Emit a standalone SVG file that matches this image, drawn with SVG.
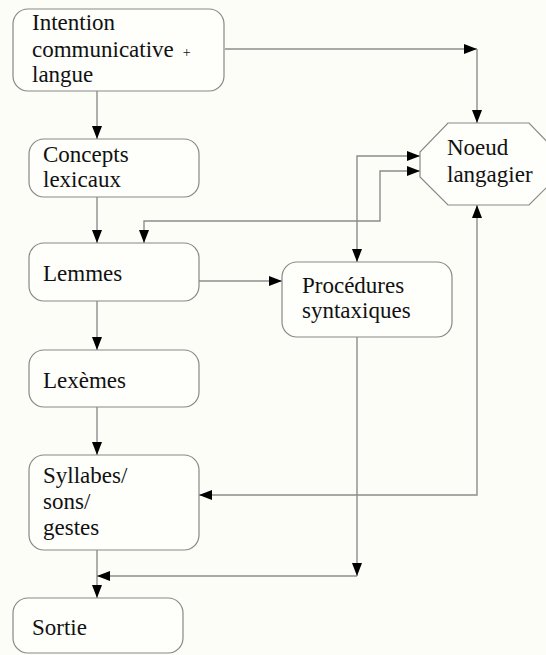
<svg xmlns="http://www.w3.org/2000/svg" width="546" height="655" viewBox="0 0 546 655">
<defs>
<marker id="ah" markerUnits="userSpaceOnUse" markerWidth="14" markerHeight="11" refX="13" refY="5" orient="auto-start-reverse"><path d="M0,0 L13,5 L0,10 z" fill="#000"/></marker>
<style>
.box{fill:#fefefb;stroke:#888;stroke-width:1.2}
.t{font-size:23px;fill:#111}
.c{fill:none;stroke:#8c8c8c;stroke-width:1.4}
.e{marker-end:url(#ah)}
.b{marker-start:url(#ah);marker-end:url(#ah)}
</style>
</defs>
<rect width="546" height="655" fill="#fdfdf8"/>
<g id="connectors">
<path class="c e" d="M97,91 V139"/>
<path class="c e" d="M225,49 H477"/>
<path class="c e" d="M477,49 V123"/>
<path class="c e" d="M97,197 V243"/>
<path class="c b" d="M420,156 H357 V262"/>
<path class="c b" d="M420,171 H380 V221 H144 V243"/>
<path class="c e" d="M199,281 H282"/>
<path class="c e" d="M97,301 V350"/>
<path class="c e" d="M97,407 V455"/>
<path class="c b" d="M199,495 H477 V205"/>
<path class="c e" d="M97,550 V598"/>
<path class="c e" d="M357,337 V576"/>
<path class="c e" d="M357,576 H97"/>
</g>
<g font-family="Liberation Serif, Tinos, Times New Roman, DejaVu Serif, serif">
<g id="intention"><rect class="box" x="13" y="9" width="211" height="82" rx="15"/>
<text class="t" x="32" y="30">Intention</text>
<text class="t" x="32" y="57">communicative<tspan dx="9" font-size="14">+</tspan></text>
<text class="t" x="32" y="82">langue</text></g>
<g id="concepts"><rect class="box" x="29" y="139" width="170" height="58" rx="15"/>
<text class="t" x="43" y="162">Concepts</text>
<text class="t" x="43" y="187">lexicaux</text></g>
<g id="noeud"><polygon class="box" points="448,123 529,123 557,152 557,177 529,205 448,205 420,177 420,152"/>
<text class="t" x="447" y="155">Noeud</text>
<text class="t" x="447" y="182">langagier</text></g>
<g id="lemmes"><rect class="box" x="29" y="243" width="170" height="58" rx="15"/>
<text class="t" x="43" y="281">Lemmes</text></g>
<g id="procedures"><rect class="box" x="282" y="262" width="170" height="75" rx="15"/>
<text class="t" x="302" y="293">Procédures</text>
<text class="t" x="302" y="318">syntaxiques</text></g>
<g id="lexemes"><rect class="box" x="29" y="350" width="170" height="57" rx="15"/>
<text class="t" x="43" y="388">Lexèmes</text></g>
<g id="syllabes"><rect class="box" x="29" y="455" width="170" height="95" rx="15"/>
<text class="t" x="43" y="483">Syllabes/</text>
<text class="t" x="43" y="509">sons/</text>
<text class="t" x="43" y="535">gestes</text></g>
<g id="sortie"><rect class="box" x="13" y="598" width="170" height="55" rx="15"/>
<text class="t" x="32" y="635">Sortie</text></g>
</g>
</svg>
